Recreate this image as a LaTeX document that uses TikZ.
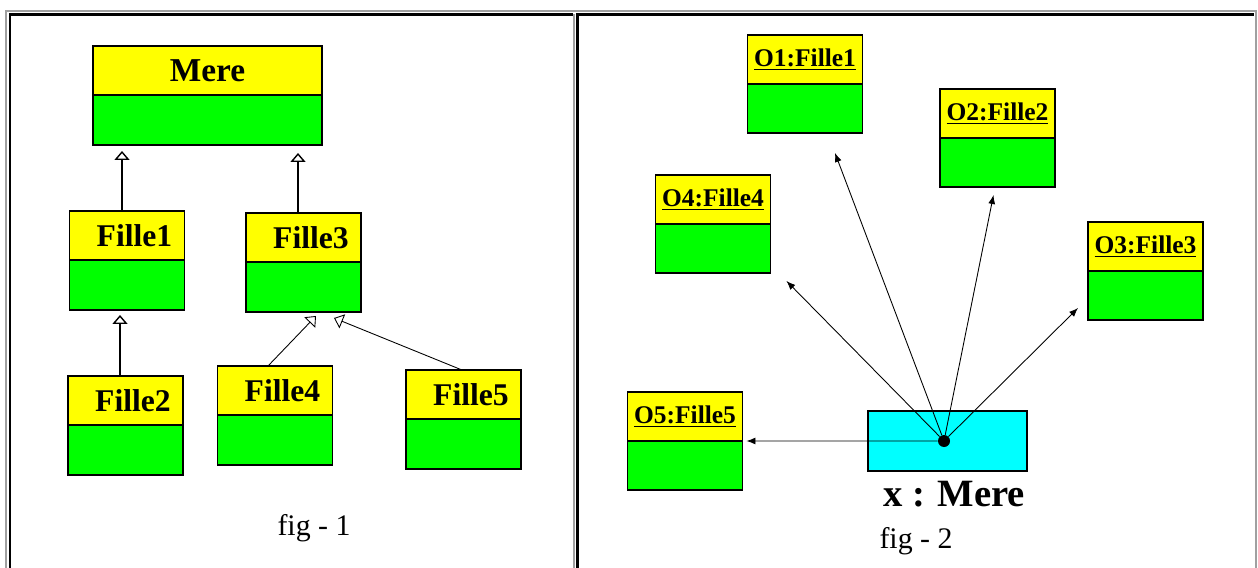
\documentclass[tikz,border=0pt]{standalone}
\usepackage{fontspec}
\setmainfont{Liberation Serif}
\usetikzlibrary{arrows.meta,positioning}
\definecolor{rim}{RGB}{160,160,160}
\definecolor{hdfill}{RGB}{255,255,0}
\definecolor{bdfill}{RGB}{0,255,0}
\definecolor{xfill}{RGB}{0,255,255}
\tikzset{hd/.style={draw, line width=1pt, fill=hdfill, inner sep=0pt, outer sep=0pt, minimum height=0.98cm},
  bd/.style={draw, line width=1pt, fill=bdfill, inner sep=0pt, outer sep=0pt, minimum height=1cm, minimum width=2.3cm},
  cls/.style={hd, minimum width=2.3cm, font=\bfseries\fontsize{18}{21}\selectfont,
    execute at begin node=\hspace*{0.3cm}},
  obj/.style={hd, minimum width=2.3cm, font=\bfseries\fontsize{14.5}{17}\selectfont},
  inh/.style={-{Triangle[open, length=0.18cm, width=0.3cm]}, line width=0.8pt},
  ptr/.style={-{Latex[length=0.18cm, width=0.14cm]}, line width=0.5pt},
  figcap/.style={font=\fontsize{17}{20}\selectfont, inner sep=0pt}}

\begin{document}
\begin{tikzpicture}[x=0.02cm, y=-0.02cm]
  \useasboundingbox (0,0) rectangle (1258,568);
  % table frame
  \draw[rim, line width=0.04cm] (6,568) -- (6,11) -- (1256,11) -- (1256,568);
  \draw[rim, line width=0.04cm] (574,14) -- (574,568);
  \draw[line width=0.06cm] (10,568) -- (10,14.5) -- (573,14.5);
  \draw[line width=0.06cm] (577,568) -- (577,14.5) -- (1254,14.5);

  % fig 1: class hierarchy
  \node[hd, minimum width=4.58cm, font=\bfseries\fontsize{19}{22}\selectfont] (mere) at (207.5,70.5) {Mere};
  \node[bd, minimum width=4.58cm, below=0pt of mere] (mereb) {};
  \foreach \n/\t/\x/\y in {f1/Fille1/127/235.5, f3/Fille3/303.5/237.5, f2/Fille2/125.5/400.5,
      f4/Fille4/275/390.5, f5/Fille5/463.5/394.5}{
    \node[cls] (\n) at (\x,\y) {\t};
    \node[bd, below=0pt of \n] (\n b) {};
  }
  \draw[inh, shorten >=0.12cm] ([xshift=-0.1cm]f1.north) -- ([xshift=-0.1cm]f1.north |- mereb.south);
  \draw[inh, shorten >=0.16cm] ([xshift=-0.11cm]f3.north) -- ([xshift=-0.11cm]f3.north |- mereb.south);
  \draw[inh, shorten >=0.1cm] ([xshift=-0.11cm]f2.north) -- ([xshift=-0.11cm]f2.north |- f1b.south);
  \draw[inh, line width=0.5pt] ([shift={(-7,0)}]f4.north) -- ([shift={(12.5,4)}]f3b.south);
  \draw[inh, line width=0.5pt] ([shift={(-1.5,0)}]f5.north) -- ([shift={(-27,6)}]f3b.south east);
  \node[figcap] (cap1) at (314,528) {fig - 1};

  % fig 2: objects reached from x
  \foreach \n/\t/\x/\y in {o1/O1:Fille1/805/59.5, o2/O2:Fille2/997.5/113.5, o4/O4:Fille4/713/199.5,
      o3/O3:Fille3/1145.5/246.5, o5/O5:Fille5/685/416.5}{
    \node[obj] (\n) at (\x,\y) {\underline{\t}};
    \node[bd, below=0pt of \n, minimum height=0.98cm] (\n b) {};
  }
  \node[draw, line width=1pt, fill=xfill, minimum width=3.18cm, minimum height=1.2cm, inner sep=0pt] (xm) at (947.5,441) {};
  \node[circle, fill=black, inner sep=0pt, minimum size=0.24cm] (pt) at (944,441) {};
  \draw[ptr] (pt) -- ([shift={(30,20)}]o1b.south);
  \draw[ptr] (pt) -- ([shift={(-4,8)}]o2b.south);
  \draw[ptr] (pt) -- ([shift={(16,8)}]o4b.south east);
  \draw[ptr] (pt) -- ([shift={(-10,-12)}]o3b.south west);
  \draw[ptr] (pt) -- ([shift={(4,0)}]o5b.north east);
  \node[font=\bfseries\fontsize{22}{26}\selectfont, inner sep=0pt] (xlab) at (954,494) {x : Mere};
  \node[figcap] (cap2) at (916,541) {fig - 2};
\end{tikzpicture}
\end{document}
